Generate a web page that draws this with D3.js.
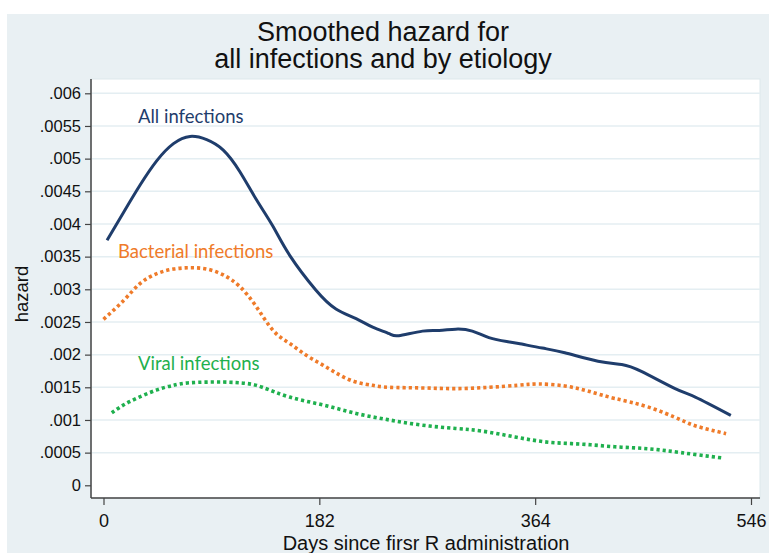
<!DOCTYPE html>
<html><head><meta charset="utf-8">
<script src="https://cdn.jsdelivr.net/npm/d3@7"></script>
<style>body{margin:0;background:#fff}svg{display:block}</style>
</head><body>
<svg id="chart" width="769" height="553"></svg>
<script>
// ---- data ----
const allDays = [3,17,31,45,59,73,87,101,115,129,143,157,179,196,213,227,241,249,269,283,297,311,325,340,350,370,389,417,437,454,482,499,529];
const allVals = [.00375,.00418,.0046,.00497,.00523,.00534,.00529,.00513,.0048,.00437,.00396,.00352,.00299,.0027,.00255,.00242,.00232,.00229,.00236,.00237,.00239,.00236,.00226,.0022,.00217,.0021,.00203,.0019,.00185,.00174,.00148,.00135,.00107];
const bactDays = [0,17,31,45,59,73,87,101,115,129,143,157,171,185,199,213,227,241,269,297,325,349,367,389,409,431,459,487,501,525];
const bactVals = [.00254,.00283,.00309,.00324,.00331,.00333,.00331,.00322,.00304,.00273,.00237,.00217,.00199,.00184,.00169,.00158,.00153,.0015,.00149,.00148,.0015,.00153,.00155,.00152,.00144,.00133,.0012,.001,.0009,.00079];
const viralDays = [7,22,45,59,73,101,120,134,157,185,213,241,269,297,319,347,375,403,431,459,487,521];
const viralVals = [.00111,.00128,.00146,.00153,.00157,.00158,.00156,.0015,.00135,.00123,.0011,.001,.00092,.00087,.00083,.00074,.00066,.00063,.00059,.00056,.0005,.00042];
const xTicks = [0,182,364,546];
const yTicks = [0,.0005,.001,.0015,.002,.0025,.003,.0035,.004,.0045,.005,.0055,.006];
const yTickLabels = ["0",".0005",".001",".0015",".002",".0025",".003",".0035",".004",".0045",".005",".0055",".006"];
const seriesNames = ["All infections","Bacterial infections","Viral infections"];
const titleLines = ["Smoothed hazard for","all infections and by etiology"];
const xTitle = "Days since firsr R administration";
const yTitle = "hazard";

// ---- layout ----
const svg = d3.select("#chart");
const bg = "#e9f0f3";
const plot = {l:91, r:760, t:79, b:498};
const x = d3.scaleLinear().domain([0,546]).range([103.5,751]);
const y = d3.scaleLinear().domain([0,.006]).range([485.3,93.3]);
const colors = ["#1f3d6c","#ef7b2a","#1fb04e"];
const sans = "Liberation Sans, Arial, sans-serif";

svg.append("rect").attr("x",7).attr("y",14).attr("width",762).attr("height",539).attr("fill",bg);
svg.append("rect").attr("x",plot.l).attr("y",plot.t).attr("width",plot.r-plot.l).attr("height",plot.b-plot.t)
  .attr("fill","#fff").attr("stroke","#dde8ec").attr("stroke-width",1);

// gridlines
svg.append("g").selectAll("line").data(yTicks.slice(1)).join("line")
  .attr("x1",plot.l).attr("x2",plot.r).attr("y1",d=>y(d)).attr("y2",d=>y(d))
  .attr("stroke","#e4eef2").attr("stroke-width",1.5);

// title
svg.append("g").selectAll("text").data(titleLines).join("text")
  .attr("x",383).attr("y",(d,i)=>41+i*27).attr("text-anchor","middle")
  .attr("font-family",sans).attr("font-size",27).attr("fill","#111")
  .text(d=>d);

// y axis
const yAxis = d3.axisLeft(y).tickValues(yTicks).tickFormat((d,i)=>yTickLabels[i]).tickSize(6).tickPadding(4);
const gy = svg.append("g").attr("transform",`translate(${plot.l},0)`).call(yAxis);
gy.select(".domain").attr("d",`M0,${plot.t}V${plot.b}`).attr("stroke","#444").attr("stroke-width",1.5);
gy.selectAll(".tick line").attr("stroke","#444").attr("stroke-width",1.2);
gy.selectAll(".tick text").attr("font-family",sans).attr("font-size",16.5).attr("fill","#111");

// x axis
const xAxis = d3.axisBottom(x).tickValues(xTicks).tickFormat(d3.format("d")).tickSize(7).tickPadding(9);
const gx = svg.append("g").attr("transform",`translate(0,${plot.b})`).call(xAxis);
gx.select(".domain").attr("d",`M${plot.l},0H${plot.r}`).attr("stroke","#444").attr("stroke-width",1.5);
gx.selectAll(".tick line").attr("stroke","#444").attr("stroke-width",1.2);
gx.selectAll(".tick text").attr("font-family",sans).attr("font-size",18).attr("fill","#111");

// axis titles
svg.append("text").attr("x",426).attr("y",550).attr("text-anchor","middle")
  .attr("font-family",sans).attr("font-size",20).attr("fill","#111").text(xTitle);
svg.append("text").attr("transform","translate(28,294) rotate(-90)").attr("text-anchor","middle")
  .attr("font-family",sans).attr("font-size",18.5).attr("fill","#111").text(yTitle);

// lines
const line = d3.line().x(d=>x(d[0])).y(d=>y(d[1])).curve(d3.curveNatural);
const series = [
  {days:allDays, vals:allVals, dash:null},
  {days:bactDays, vals:bactVals, dash:"3.2,3"},
  {days:viralDays, vals:viralVals, dash:"3.2,3"}
];
series.forEach((s,i)=>{
  svg.append("path").datum(s.days.map((d,j)=>[d,s.vals[j]]))
    .attr("d",line).attr("fill","none").attr("stroke",colors[i])
    .attr("stroke-width",i===0?3:3.6).attr("stroke-dasharray",s.dash)
    .attr("stroke-linejoin","round");
});

// series labels
const labelPos = [[138,123],[118,258],[138,370]];
svg.append("g").selectAll("text").data(seriesNames).join("text")
  .attr("x",(d,i)=>labelPos[i][0]).attr("y",(d,i)=>labelPos[i][1])
  .attr("font-family","Lato, 'Open Sans', sans-serif").attr("font-size",18.5)
  .attr("fill",(d,i)=>colors[i]).text(d=>d);
</script>
</body></html>
